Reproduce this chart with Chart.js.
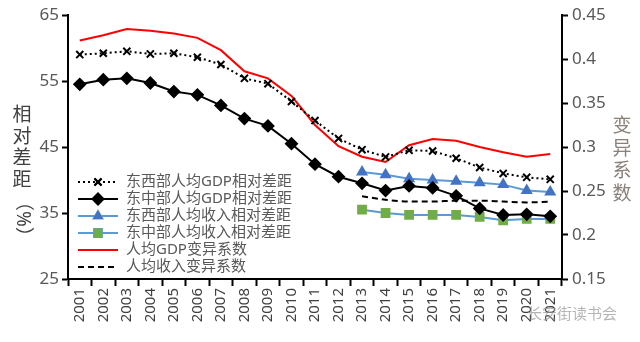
<!DOCTYPE html>
<html>
<head>
<meta charset="utf-8">
<script src="https://cdn.jsdelivr.net/npm/chart.js@4/dist/chart.umd.min.js"></script>
<style>
  html, body { margin: 0; padding: 0; background: #fff; }
  #wrap { width: 640px; height: 342px; position: relative; }
</style>
</head>
<body>
<div id="wrap"><canvas id="myChart" width="640" height="342"></canvas></div>
<script>
const years = ['2001','2002','2003','2004','2005','2006','2007','2008','2009','2010','2011',
  '2012','2013','2014','2015','2016','2017','2018','2019','2020','2021'];

// 左轴（%）
const gdpEastWest = [59.0, 59.2, 59.5, 59.1, 59.2, 58.6, 57.5, 55.4, 54.6, 51.9, 49.0,
  46.3, 44.6, 43.5, 44.5, 44.4, 43.3, 41.9, 41.0, 40.4, 40.1];
const gdpEastMid = [54.5, 55.2, 55.4, 54.7, 53.4, 52.9, 51.3, 49.3, 48.2, 45.5, 42.4,
  40.5, 39.5, 38.4, 39.1, 38.8, 37.6, 35.7, 34.7, 34.8, 34.5];
const incEastWest = [null, null, null, null, null, null, null, null, null, null, null,
  null, 41.2, 40.8, 40.2, 40.0, 39.8, 39.6, 39.3, 38.4, 38.2];
const incEastMid = [null, null, null, null, null, null, null, null, null, null, null,
  null, 35.5, 35.0, 34.7, 34.7, 34.7, 34.4, 33.9, 34.1, 34.1];

// 右轴（变异系数）
const gdpCV = [0.421, 0.427, 0.434, 0.432, 0.429, 0.424, 0.410, 0.386, 0.378, 0.358, 0.325,
  0.301, 0.289, 0.283, 0.302, 0.309, 0.307, 0.300, 0.294, 0.289, 0.292];
const incCV = [null, null, null, null, null, null, null, null, null, null, null,
  null, 0.244, 0.240, 0.238, 0.238, 0.239, 0.239, 0.238, 0.237, 0.238];

const leftTicks = [25, 35, 45, 55, 65];
const rightTicks = [0.15, 0.2, 0.25, 0.3, 0.35, 0.4, 0.45];

const FONT = '"Noto Sans", "Noto Sans CJK SC", sans-serif';

const data = {
  labels: years,
  datasets: [
    {
      label: '东西部人均GDP相对差距', data: gdpEastWest, yAxisID: 'y',
      borderColor: '#000', backgroundColor: '#000', borderWidth: 2, borderDash: [2, 3],
      pointStyle: 'crossRot', pointRadius: 5, pointBorderWidth: 2, order: 2
    },
    {
      label: '东中部人均GDP相对差距', data: gdpEastMid, yAxisID: 'y',
      borderColor: '#000', backgroundColor: '#000', borderWidth: 2,
      pointStyle: 'rectRot', pointRadius: 5.5, order: 1
    },
    {
      label: '东西部人均收入相对差距', data: incEastWest, yAxisID: 'y',
      borderColor: '#5B9BD5', backgroundColor: '#4472C4', pointBorderColor: '#4472C4',
      borderWidth: 2, pointStyle: 'triangle', pointRadius: 5, order: 3
    },
    {
      label: '东中部人均收入相对差距', data: incEastMid, yAxisID: 'y',
      borderColor: '#5B9BD5', backgroundColor: '#70AD47', pointBorderColor: '#70AD47',
      borderWidth: 2, pointStyle: 'rect', pointRadius: 5.5, order: 4
    },
    {
      label: '人均GDP变异系数', data: gdpCV, yAxisID: 'y1',
      borderColor: '#FF0000', backgroundColor: '#FF0000', borderWidth: 2,
      pointRadius: 0, order: 5
    },
    {
      label: '人均收入变异系数', data: incCV, yAxisID: 'y1',
      borderColor: '#000', backgroundColor: '#000', borderWidth: 2, borderDash: [6, 4],
      pointRadius: 0, order: 6, cubicInterpolationMode: 'monotone', tension: 0.4
    }
  ]
};

// 图例画在绘图区左下角
const legendPlugin = {
  id: 'innerLegend',
  afterDraw(chart) {
    const ctx = chart.ctx;
    const rows = [182, 199, 216, 233, 250, 267];
    ctx.save();
    chart.data.datasets.forEach((ds, i) => {
      const y = rows[i];
      ctx.strokeStyle = ds.borderColor;
      ctx.lineWidth = 2;
      ctx.setLineDash(ds.borderDash || []);
      ctx.beginPath();
      ctx.moveTo(78, y);
      ctx.lineTo(118, y);
      ctx.stroke();
      ctx.setLineDash([]);
      if (ds.pointRadius) {
        Chart.helpers.drawPoint(ctx, {
          pointStyle: ds.pointStyle, radius: ds.pointRadius,
          borderWidth: ds.pointBorderWidth || 1, rotation: 0
        }, 98, y);
        ctx.fillStyle = ds.backgroundColor;
        ctx.strokeStyle = ds.pointBorderColor || ds.borderColor;
        ctx.lineWidth = ds.pointBorderWidth || 1;
        ctx.beginPath();
        Chart.helpers.drawPoint(ctx, {
          pointStyle: ds.pointStyle, radius: ds.pointRadius,
          borderWidth: ds.pointBorderWidth || 1, rotation: 0
        }, 98, y);
      }
      ctx.fillStyle = '#595959';
      ctx.font = '15px ' + FONT;
      ctx.textAlign = 'left';
      ctx.textBaseline = 'middle';
      ctx.fillText(ds.label, 126, y);
    });

    // 纵轴标题
    ctx.font = '19px ' + FONT;
    ctx.textAlign = 'center';
    ctx.fillStyle = '#404040';
    ['相', '对', '差', '距'].forEach((c, k) => ctx.fillText(c, 22, 116 + k * 21.5));
    ctx.save();
    ctx.translate(22, 219);
    ctx.rotate(Math.PI / 2);
    ctx.fillText('（%）', 0, 0);
    ctx.restore();

    ctx.fillStyle = '#8a8078';
    ['变', '异', '系', '数'].forEach((c, k) => ctx.fillText(c, 622, 127 + k * 22.5));

    // 水印
    ctx.font = '15px ' + FONT;
    ctx.textAlign = 'left';
    ctx.fillStyle = 'rgba(150,150,150,0.7)';
    ctx.fillText('长安街读书会', 527, 315);
    ctx.restore();
  }
};

const config = {
  type: 'line',
  data: data,
  options: {
    responsive: false,
    animation: false,
    layout: { padding: { top: 15, left: 0, right: 0, bottom: 0 } },
    plugins: { legend: { display: false }, tooltip: { enabled: false } },
    elements: { line: { tension: 0 } },
    scales: {
      x: {
        offset: true,
        grid: { offset: true, drawOnChartArea: false, drawTicks: true, tickLength: 7, tickColor: '#000', tickWidth: 2 },
        border: { color: '#000', width: 2 },
        ticks: { color: '#404040', font: { size: 15, family: FONT }, minRotation: 90, maxRotation: 90, padding: 2, autoSkip: false },
        afterFit(scale) { scale.height = 63; }
      },
      y: {
        position: 'left', min: 25, max: 65,
        afterBuildTicks(scale) { scale.ticks = leftTicks.map(v => ({ value: v })); },
        grid: { drawOnChartArea: false, tickLength: 6, tickColor: '#000', tickWidth: 2 },
        border: { color: '#000', width: 2 },
        ticks: { color: '#595959', font: { size: 17, family: FONT }, padding: 3 },
        afterFit(scale) { scale.width = 68; }
      },
      y1: {
        position: 'right', min: 0.15, max: 0.45,
        afterBuildTicks(scale) { scale.ticks = rightTicks.map(v => ({ value: v })); },
        grid: { drawOnChartArea: false, tickLength: 6, tickColor: '#000', tickWidth: 2 },
        border: { color: '#000', width: 2 },
        ticks: { color: '#595959', font: { size: 17, family: FONT }, padding: 4,
          callback: v => String(parseFloat(v.toFixed(2))) },
        afterFit(scale) { scale.width = 78; }
      }
    }
  },
  plugins: [legendPlugin]
};

new Chart(document.getElementById('myChart'), config);
</script>
</body>
</html>
